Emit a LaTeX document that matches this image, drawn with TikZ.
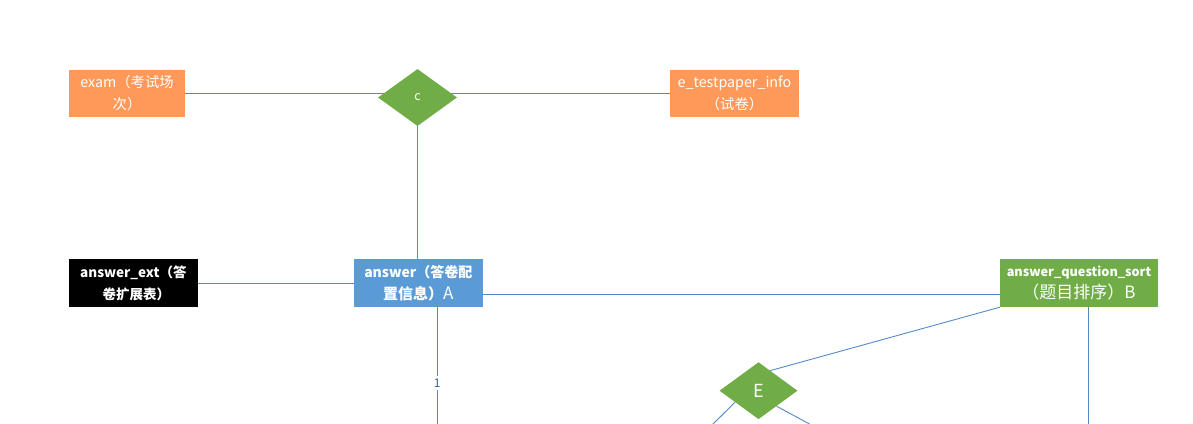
\documentclass[tikz,border=0pt]{standalone}
\usepackage{fontspec}
\setmainfont{Noto Sans CJK SC}
\usetikzlibrary{shapes.geometric,backgrounds,calc}
\definecolor{eorange}{RGB}{255,153,90}
\definecolor{egreen}{RGB}{112,173,71}
\definecolor{eblue}{RGB}{91,155,213}
\definecolor{eline}{RGB}{84,138,200}
\definecolor{elabel}{RGB}{50,100,150}
\tikzset{
  entity/.style={rectangle, inner sep=0pt, align=center, text=white,
    font=\fontsize{14.3}{22}\selectfont},
  rel/.style={diamond, fill=egreen, inner sep=0pt, text=white, aspect=1.38},
  conn/.style={draw=eline, line width=0.9pt},
  lbl/.style={fill=white, text=elabel, inner sep=2.5pt, font=\fontsize{12}{14}\selectfont},
}
\begin{document}
\begin{tikzpicture}[x=1pt,y=-1pt]
\useasboundingbox (0,0) rectangle (1193,423);
% entities
\node[entity, fill=eorange, minimum width=116pt, minimum height=47pt] (exam) at (127,93.5) {exam（考试场\\次）};
\node[entity, fill=eorange, minimum width=129pt, minimum height=47pt] (etp) at (734.5,93.5) {e\_testpaper\_info\\（试卷）};
\node[rel, minimum width=79pt, minimum height=57pt, font=\fontsize{12.5}{14}\selectfont] (C) at (417.5,97.5) {c};
\node[entity, fill=black, minimum width=129pt, minimum height=48pt, font=\fontsize{13.5}{22}\selectfont\bfseries] (ext) at (133.4,283) {answer\_ext（答\\\hspace*{6pt}卷扩展表）};
\node[entity, fill=eblue, minimum width=129pt, minimum height=48pt, font=\fontsize{14}{22}\selectfont\bfseries] (ans) at (418.3,283) {answer（答卷配\\{\fontsize{15}{22}\selectfont 置信息）}{\mdseries\fontsize{17}{22}\selectfont A}};
\node[entity, fill=egreen, minimum width=158pt, minimum height=48pt, font=\fontsize{12.7}{22}\selectfont\bfseries] (aqs) at (1079,283) {answer\_question\_sort\\{\mdseries\fontsize{17}{22}\selectfont（题目排序）B}};
\node[rel, minimum width=78pt, minimum height=57pt, font=\fontsize{18}{20}\selectfont] (E) at (758.5,390.7) {E};
% free ends below the picture
\coordinate (ansend) at (437.3,459);
\coordinate (aqsend) at (1088.3,440);
\coordinate (eleft) at (697,440);
\coordinate (eright) at (839,440);
\begin{scope}[on background layer]
\draw[conn] (exam.east) -- (exam.east -| C.center);
\draw[conn] (C.center |- etp.west) -- (etp.west);
\draw[conn] (C.center) -- (C.center |- ans.north);
\draw[conn] (ext.east) -- (ext.east -| ans.west);
\draw[conn] ([yshift=-11pt]ans.east) -- ([yshift=-11pt]ans.east -| aqs.west);
\draw[conn] (ans.south -| ansend) -- (ansend) node[lbl, midway] {1};
\draw[conn] (aqsend |- aqs.south) -- (aqsend);
\draw[conn] (aqs.south west) -- ($(E.north)!0.3!(E.east)$);
\draw[conn] ($(E.west)!0.4!(E.south)$) -- (eleft);
\draw[conn] ($(E.east)!0.54!(E.south)$) -- (eright);
\end{scope}
\end{tikzpicture}
\end{document}
